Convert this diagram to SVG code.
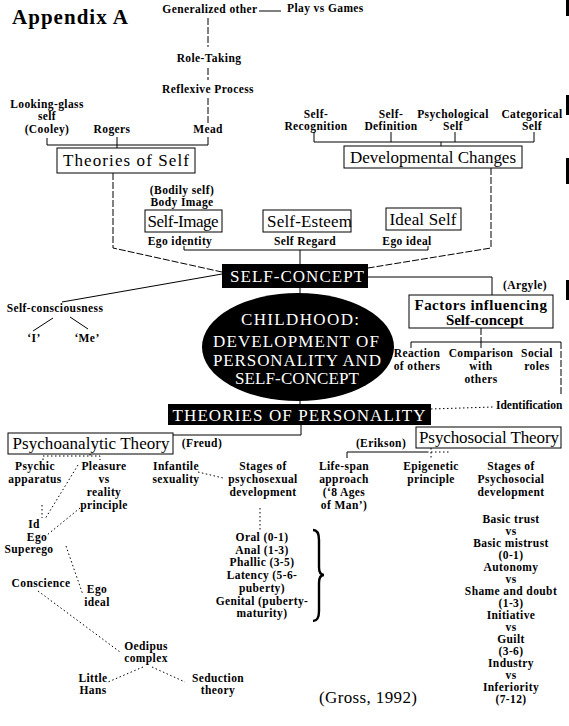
<svg xmlns="http://www.w3.org/2000/svg" width="569" height="726" viewBox="0 0 569 726">
<style>
text{font-family:"Liberation Serif","Times New Roman",serif;fill:#000}
.t{font-size:11.5px;font-weight:bold;text-anchor:middle;letter-spacing:0.4px}
.ts{font-size:11.5px;font-weight:bold;letter-spacing:0.4px}
.b{font-size:17px;text-anchor:middle}
.bb{font-size:15px;font-weight:bold;text-anchor:middle;letter-spacing:0.6px}
.w{font-size:17px;fill:#fff;text-anchor:middle}
.box{fill:#fff;stroke:#000;stroke-width:1}
.blk{fill:#000}
.ln{fill:none;stroke:#000;stroke-width:1}
.dl{fill:none;stroke:#000;stroke-width:1;stroke-dasharray:7 2}
.dt{fill:none;stroke:#000;stroke-width:1;stroke-dasharray:1.5 2.5}
</style>
<rect width="569" height="726" fill="#fff"/>
<g id="edge-marks" fill="#000">
<rect x="566" y="0" width="3" height="16"/>
<rect x="566" y="95" width="3" height="20"/>
<rect x="566" y="158" width="3" height="26"/>
<rect x="566" y="280" width="3" height="20"/>
</g>
<text x="12" y="24" font-size="21" font-weight="bold" textLength="116" lengthAdjust="spacing">Appendix A</text>

<g id="connectors">
<path class="ln" d="M259,11 H281"/>
<path class="dl" d="M208,18 V47"/>
<path class="dl" d="M208,68 V80"/>
<path class="dl" d="M208,98 V124"/>
<path class="ln" d="M47,138 V145 H208 V137"/>
<path class="ln" d="M117,137 V148"/>
<path class="ln" d="M314,132 V142 H534 V132 M391,132 V142 M455,132 V142 M441,142 V146"/>
<path class="dl" d="M113,173 V248 L222,272"/>
<path class="ln" d="M222,274 L62,302"/>
<path class="dl" d="M491,168 V248 L368,268"/>
<path class="ln" d="M184,246 V250 H428 V246 M300,250 V264"/>
<path class="ln" d="M368,277 H492 V295"/>
<path class="dl" d="M481,328 V342"/>
<path class="ln" d="M411,348 V342 H561 M481,342 V348"/>
<path class="dl" d="M561,342 V395"/>
<path class="dt" d="M431,409 L493,407"/>
<path class="ln" d="M53,318 L33,331 M70,317 L88,329"/>
<path class="ln" d="M300,288 V293 M300,400 V404"/>
<path class="ln" d="M301,425 V435 H173"/>
<path class="dt" d="M43,460 V456 H100 V460 M90,454 V456"/>
<path class="ln" d="M347,458 V452 H427"/>
<path class="dt" d="M427,452 H451 M431,448 V458"/>
<path class="dt" d="M42,505 V518"/>
<path class="dt" d="M78,465 L45,519"/>
<path class="dt" d="M80,508 L47,535"/>
<path class="dt" d="M198,472 L223,478"/>
<path class="dt" d="M260,508 V531"/>
<path class="dt" d="M66,546 L83,595"/>
<path class="dt" d="M38,591 L120,652"/>
<path class="dt" d="M143,667 L108,682"/>
<path class="dt" d="M152,667 L185,682"/>
<path fill="none" stroke="#000" stroke-width="2.4" d="M313,530 Q319,530 319,540 V567 Q319,575 324,575 Q319,575 319,583 V611 Q319,621 313,621"/>
</g>

<g id="generalized-other"><text class="t" x="210" y="13">Generalized other</text></g>
<g id="play-vs-games"><text class="ts" x="287" y="12">Play vs Games</text></g>
<g id="role-taking"><text class="t" x="209" y="62">Role-Taking</text></g>
<g id="reflexive-process"><text class="t" x="208" y="93">Reflexive Process</text></g>
<g id="looking-glass"><text class="t" x="47" y="108">Looking-glass</text><text class="t" x="47" y="120">self</text><text class="t" x="47" y="133">(Cooley)</text></g>
<g id="rogers"><text class="t" x="112" y="133">Rogers</text></g>
<g id="mead"><text class="t" x="208" y="133">Mead</text></g>
<g id="theories-of-self"><rect class="box" x="57" y="148" width="138" height="25"/><text class="b" x="126" y="166" textLength="126" lengthAdjust="spacing">Theories of Self</text></g>

<g id="self-recognition"><text class="t" x="316" y="118">Self-</text><text class="t" x="316" y="130">Recognition</text></g>
<g id="self-definition"><text class="t" x="391" y="118">Self-</text><text class="t" x="391" y="130">Definition</text></g>
<g id="psychological-self"><text class="t" x="453" y="118">Psychological</text><text class="t" x="453" y="130">Self</text></g>
<g id="categorical-self"><text class="t" x="532" y="118">Categorical</text><text class="t" x="532" y="130">Self</text></g>
<g id="developmental-changes"><rect class="box" x="344" y="146" width="178" height="22"/><text class="b" x="433" y="163" textLength="166" lengthAdjust="spacing">Developmental Changes</text></g>

<g id="self-image"><text class="t" x="182" y="194">(Bodily self)</text><text class="t" x="182" y="206">Body Image</text><rect class="box" x="145" y="210" width="77" height="22"/><text class="b" x="183" y="227" textLength="71" lengthAdjust="spacing">Self-Image</text><text class="t" x="180" y="245">Ego identity</text></g>
<g id="self-esteem"><rect class="box" x="263" y="210" width="88" height="22"/><text class="b" x="267" y="227" style="text-anchor:start" textLength="85" lengthAdjust="spacing">Self-Esteem</text><text class="t" x="305" y="245">Self Regard</text></g>
<g id="ideal-self"><rect class="box" x="386" y="208" width="75" height="22"/><text class="b" x="423" y="225" textLength="67" lengthAdjust="spacing">Ideal Self</text><text class="t" x="407" y="245">Ego ideal</text></g>

<g id="self-concept"><rect class="blk" x="222" y="264" width="146" height="24"/><text class="w" x="297" y="282" font-size="15" textLength="134" lengthAdjust="spacing">SELF-CONCEPT</text></g>

<g id="argyle"><text class="t" x="525" y="289">(Argyle)</text></g>
<g id="factors"><rect class="box" x="409" y="295" width="144" height="33"/><text class="bb" x="481" y="310" textLength="133" lengthAdjust="spacing">Factors influencing</text><text class="bb" x="485" y="325" textLength="78" lengthAdjust="spacing">Self-concept</text></g>
<g id="reaction"><text class="t" x="417" y="357">Reaction</text><text class="t" x="417" y="370">of others</text></g>
<g id="comparison"><text class="t" x="481" y="357">Comparison</text><text class="t" x="481" y="370">with</text><text class="t" x="481" y="383">others</text></g>
<g id="social-roles"><text class="t" x="537" y="357">Social</text><text class="t" x="537" y="370">roles</text></g>
<g id="identification"><text x="496" y="409" font-size="11.5" font-weight="bold">Identification</text></g>

<g id="self-consciousness"><text class="t" x="55" y="312">Self-consciousness</text></g>
<g id="i"><text class="t" x="34" y="342">‘I’</text></g>
<g id="me"><text class="t" x="87" y="342">‘Me’</text></g>

<g id="childhood"><ellipse class="blk" cx="298" cy="347" rx="96" ry="54"/>
<text class="w" x="300" y="325" textLength="118" lengthAdjust="spacing">CHILDHOOD:</text>
<text class="w" x="296" y="347" textLength="166" lengthAdjust="spacing">DEVELOPMENT OF</text>
<text class="w" x="297" y="366" textLength="168" lengthAdjust="spacing">PERSONALITY AND</text>
<text class="w" x="297" y="384" textLength="124" lengthAdjust="spacing">SELF-CONCEPT</text></g>

<g id="theories-of-personality"><rect class="blk" x="168" y="404" width="263" height="21"/><text class="w" x="299" y="421" font-size="16" textLength="253" lengthAdjust="spacing">THEORIES OF PERSONALITY</text></g>

<g id="psychoanalytic"><rect class="box" x="8" y="433" width="165" height="21"/><text class="b" x="91" y="449" textLength="157" lengthAdjust="spacing">Psychoanalytic Theory</text></g>
<g id="freud"><text class="t" x="202" y="447">(Freud)</text></g>
<g id="erikson"><text class="t" x="381" y="447">(Erikson)</text></g>
<g id="psychosocial"><rect class="box" x="416" y="427" width="145" height="21"/><text class="b" x="489" y="443" textLength="140" lengthAdjust="spacing">Psychosocial Theory</text></g>

<g id="psychic-apparatus"><text class="t" x="35" y="470">Psychic</text><text class="t" x="35" y="483">apparatus</text></g>
<g id="pleasure"><text class="t" x="104" y="470">Pleasure</text><text class="t" x="104" y="483">vs</text><text class="t" x="104" y="496">reality</text><text class="t" x="104" y="509">principle</text></g>
<g id="infantile"><text class="t" x="176" y="470">Infantile</text><text class="t" x="176" y="483">sexuality</text></g>
<g id="stages-psychosexual"><text class="t" x="263" y="470">Stages of</text><text class="t" x="263" y="483">psychosexual</text><text class="t" x="263" y="496">development</text></g>
<g id="life-span"><text class="t" x="344" y="470">Life-span</text><text class="t" x="344" y="483">approach</text><text class="t" x="344" y="496">(‘8 Ages</text><text class="t" x="344" y="509">of Man’)</text></g>
<g id="epigenetic"><text class="t" x="431" y="470">Epigenetic</text><text class="t" x="431" y="483">principle</text></g>
<g id="stages-psychosocial"><text class="t" x="511" y="470">Stages of</text><text class="t" x="511" y="483">Psychosocial</text><text class="t" x="511" y="496">development</text></g>

<g id="id-ego-superego"><text class="t" x="34" y="528">Id</text><text class="t" x="37" y="541">Ego</text><text class="t" x="29" y="553">Superego</text></g>
<g id="conscience"><text class="t" x="41" y="587">Conscience</text></g>
<g id="ego-ideal"><text class="t" x="97" y="593">Ego</text><text class="t" x="97" y="606">ideal</text></g>
<g id="oedipus"><text class="t" x="146" y="650">Oedipus</text><text class="t" x="146" y="662">complex</text></g>
<g id="little-hans"><text class="t" x="93" y="682">Little</text><text class="t" x="93" y="694">Hans</text></g>
<g id="seduction"><text class="t" x="218" y="682">Seduction</text><text class="t" x="218" y="694">theory</text></g>

<g id="psychosexual-stages">
<text class="t" x="262" y="541">Oral (0-1)</text>
<text class="t" x="262" y="554">Anal (1-3)</text>
<text class="t" x="262" y="566">Phallic (3-5)</text>
<text class="t" x="262" y="579">Latency (5-6-</text>
<text class="t" x="262" y="592">puberty)</text>
<text class="t" x="262" y="605">Genital (puberty-</text>
<text class="t" x="262" y="617">maturity)</text>
</g>

<g id="psychosocial-stages">
<text class="t" x="511" y="523">Basic trust</text>
<text class="t" x="511" y="535">vs</text>
<text class="t" x="511" y="547">Basic mistrust</text>
<text class="t" x="511" y="559">(0-1)</text>
<text class="t" x="511" y="571">Autonomy</text>
<text class="t" x="511" y="583">vs</text>
<text class="t" x="511" y="595">Shame and doubt</text>
<text class="t" x="511" y="607">(1-3)</text>
<text class="t" x="511" y="619">Initiative</text>
<text class="t" x="511" y="631">vs</text>
<text class="t" x="511" y="643">Guilt</text>
<text class="t" x="511" y="655">(3-6)</text>
<text class="t" x="511" y="667">Industry</text>
<text class="t" x="511" y="679">vs</text>
<text class="t" x="511" y="691">Inferiority</text>
<text class="t" x="511" y="703">(7-12)</text>
</g>

<g id="gross"><text x="368" y="703" font-size="17" text-anchor="middle" textLength="98" lengthAdjust="spacing">(Gross, 1992)</text></g>
</svg>
